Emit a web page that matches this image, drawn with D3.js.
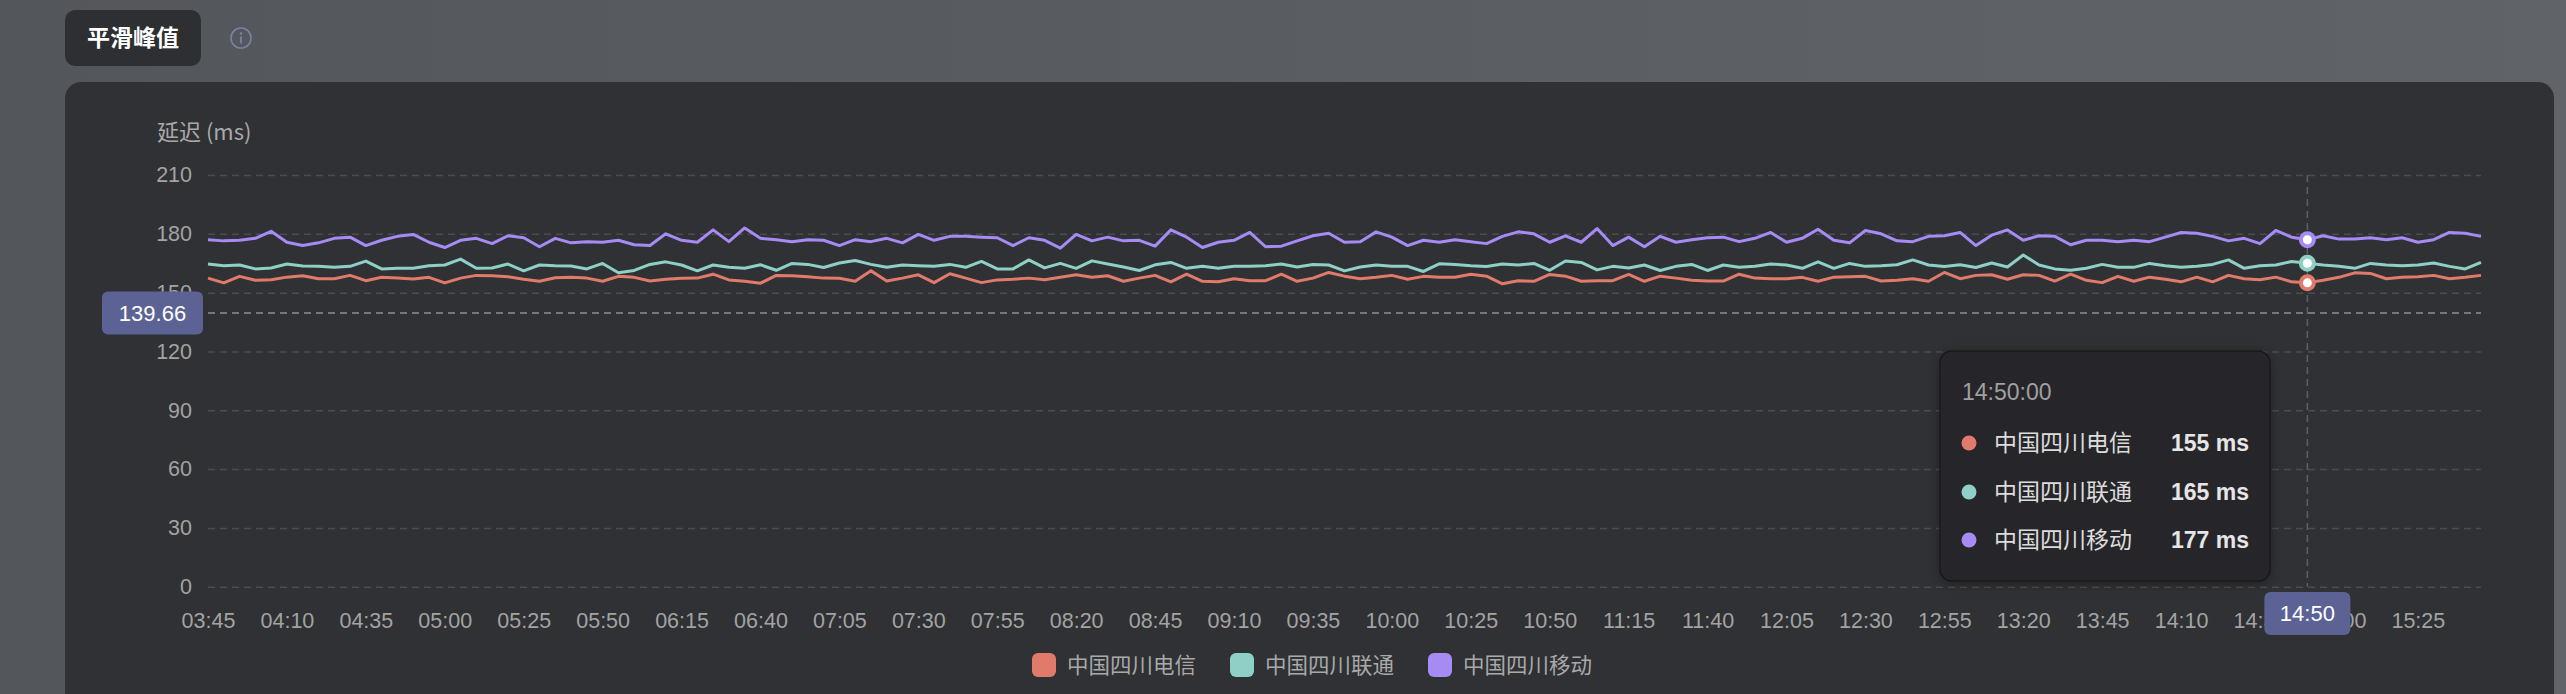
<!DOCTYPE html>
<html>
<head>
<meta charset="utf-8">
<script src="https://cdn.jsdelivr.net/npm/d3@7"></script>
<style>
html,body{margin:0;padding:0;background:#585c60;overflow:hidden;}
svg{display:block;}
text{font-family:"Liberation Sans","Noto Sans CJK SC",Arial,sans-serif;}
</style>
</head>
<body>
<svg id="chart" width="2566" height="694"></svg>
<script>
// ---------- data ----------
const seriesNames = ["中国四川电信", "中国四川联通", "中国四川移动"];
const seriesColors = ["#e07b6c", "#8ed0c6", "#a78bf5"];
const startTime = "03:45";
const stepMinutes = 5;
const telecom = [
157.4,155.0,158.3,156.3,156.6,157.9,158.6,157.1,157.1,158.8,156.1,157.8,157.4,156.9,157.8,155.0,157.4,158.8,158.6,158.1,156.8,155.8,157.6,157.8,157.4,
155.8,158.3,157.8,155.9,156.8,157.3,157.4,159.4,156.5,155.8,154.8,158.8,158.6,158.1,157.4,157.3,155.8,161.1,155.9,157.4,159.1,155.1,159.6,157.4,
155.1,156.5,156.8,157.4,156.6,157.8,159.1,157.8,158.6,155.8,157.4,158.8,155.5,159.4,155.8,155.5,157.1,156.1,156.1,159.4,155.8,157.4,160.3,158.4,157.1,
157.8,158.8,156.8,158.3,157.9,157.8,159.4,158.4,154.5,156.1,155.8,159.3,158.4,155.8,156.1,156.1,159.3,155.8,158.4,157.4,156.3,155.9,155.9,159.4,
157.4,157.1,157.1,157.8,155.8,157.9,158.1,158.3,155.9,156.3,157.1,155.8,160.3,157.1,158.8,159.1,156.8,159.1,158.8,155.9,159.4,156.3,155.1,158.3,
155.8,157.9,156.8,155.5,157.9,155.5,158.8,157.1,156.6,157.9,155.5,155.0,156.3,157.8,160.1,159.8,157.1,157.8,158.1,158.8,157.1,157.8,158.8];
const unicom = [
164.6,163.7,164.1,162.1,162.6,164.6,163.6,163.4,162.9,163.4,166.1,162.1,162.4,162.4,163.7,164.1,167.1,162.4,162.6,164.6,161.1,164.1,163.7,163.6,162.1,
164.9,160.1,161.3,164.4,165.7,164.1,161.1,164.1,162.9,162.4,164.2,161.4,164.9,164.4,162.8,165.1,166.4,164.4,162.9,164.1,163.7,163.4,164.4,162.9,
165.9,162.1,162.1,166.7,162.6,164.9,162.4,166.2,164.6,163.1,161.3,164.2,165.4,162.4,163.4,162.4,163.4,163.4,163.7,164.6,163.1,164.4,164.1,161.1,163.1,
164.1,163.4,163.4,160.8,164.7,164.4,163.7,163.3,164.6,164.1,164.9,161.4,166.1,165.4,161.6,163.4,162.6,164.1,161.3,163.4,164.4,161.3,164.1,162.9,
163.4,164.6,164.1,162.4,165.7,162.4,164.9,163.4,163.7,164.2,166.7,164.1,163.3,164.2,162.8,165.1,163.1,169.2,164.1,162.1,161.4,162.4,164.4,162.9,
162.9,164.9,163.7,162.9,163.4,164.4,166.7,162.4,163.7,164.1,165.9,165.0,164.1,163.4,162.4,164.9,164.1,163.7,164.1,165.1,163.4,162.1,165.4];
const mobile = [
177.0,176.4,176.7,177.7,181.3,175.7,174.0,175.4,177.7,178.3,174.0,176.7,178.7,179.7,175.7,173.0,176.7,177.7,175.0,179.0,178.0,173.4,177.7,175.4,176.0,
175.7,176.7,174.4,174.0,180.0,176.7,175.7,182.0,176.0,183.0,177.7,177.0,176.0,177.0,176.7,174.0,177.0,176.0,177.7,175.4,179.7,176.7,178.7,178.7,
178.3,178.0,174.0,178.0,176.7,172.7,179.7,176.4,178.3,176.4,176.7,173.7,182.0,178.3,173.0,175.7,176.7,180.7,173.4,173.7,176.4,179.0,180.3,175.7,176.0,
181.0,178.3,174.0,176.7,175.7,177.0,176.0,175.0,178.7,181.0,180.0,175.7,179.0,175.7,182.7,174.0,178.3,173.4,178.7,175.7,177.0,178.0,178.3,176.0,
177.7,180.7,175.7,177.7,182.3,176.7,175.4,181.7,180.0,176.4,176.0,178.7,179.0,180.7,174.0,179.3,182.0,176.7,179.0,178.7,174.4,176.7,176.7,176.0,
176.7,176.0,178.3,180.7,180.3,178.7,176.4,177.7,175.0,181.7,178.3,177.0,179.0,177.3,177.3,178.0,177.0,178.0,175.7,177.0,180.7,180.3,178.7];
const xTickLabels = ["03:45","04:10","04:35","05:00","05:25","05:50","06:15","06:40","07:05","07:30","07:55","08:20","08:45","09:10","09:35","10:00","10:25","10:50","11:15","11:40","12:05","12:30","12:55","13:20","13:45","14:10","14:35","15:00","15:25"];
const yTicks = [0,30,60,90,120,150,180,210];
const markValue = 139.66;
const hoverTime = "14:50";
const title = "平滑峰值";
const yTitle = "延迟 (ms)";

// ---------- setup ----------
const svg = d3.select("#chart");
const parseT = d3.timeParse("%Y-%m-%d %H:%M");
const day = "2024-01-01 ";
const t0 = parseT(day + startTime);
const times = telecom.map((_, i) => d3.timeMinute.offset(t0, i * stepMinutes));
const allSeries = [telecom, unicom, mobile];

const pL = 208, pR = 2481, pT = 175, pB = 586.7;
const x = d3.scaleTime().domain([times[0], times[times.length - 1]]).range([pL, pR]);
const y = d3.scaleLinear().domain([0, 210]).range([pB, pT]);

// background
const defs = svg.append("defs");
const bg = defs.append("linearGradient").attr("id", "bg").attr("x1", 0).attr("x2", 1).attr("y1", 0).attr("y2", 0);
bg.append("stop").attr("offset", 0).attr("stop-color", "#53575b");
bg.append("stop").attr("offset", 1).attr("stop-color", "#606367");
const sh = defs.append("filter").attr("id", "sh").attr("x", -0.2).attr("y", -0.2).attr("width", 1.4).attr("height", 1.4);
sh.append("feDropShadow").attr("dx", 0).attr("dy", 2).attr("stdDeviation", 6).attr("flood-color", "#000").attr("flood-opacity", 0.35);

svg.append("rect").attr("width", 2566).attr("height", 694).attr("fill", "url(#bg)");

// title button
svg.append("rect").attr("x", 65).attr("y", 10).attr("width", 136).attr("height", 56).attr("rx", 10).attr("fill", "#2d2f32");
svg.append("text").attr("x", 133).attr("y", 38).attr("dy", "0.36em").attr("text-anchor", "middle")
  .attr("font-size", 23).attr("font-weight", "bold").attr("fill", "#ffffff")
  .style("font-family", '"Noto Sans CJK SC",sans-serif').text(title);
// info icon
const info = svg.append("g").attr("transform", "translate(241,38)");
info.append("circle").attr("r", 10).attr("fill", "none").attr("stroke", "#7a80a6").attr("stroke-width", 1.6);
info.append("circle").attr("cx", 0).attr("cy", -4.5).attr("r", 1.3).attr("fill", "#7a80a6");
info.append("line").attr("x1", 0).attr("x2", 0).attr("y1", -1.5).attr("y2", 5.5).attr("stroke", "#7a80a6").attr("stroke-width", 1.8);

// panel
svg.append("rect").attr("x", 65).attr("y", 82).attr("width", 2489).attr("height", 700).attr("rx", 16).attr("fill", "#2f3134");

// y axis title
svg.append("text").attr("x", 157).attr("y", 140).attr("font-size", 22).attr("fill", "#a9a9a9")
  .style("font-family", '"Noto Sans CJK SC",sans-serif').text(yTitle);

// grid + y axis
const yAxis = svg.append("g").attr("transform", `translate(${pL},0)`)
  .call(d3.axisLeft(y).tickValues(yTicks).tickSize(-(pR - pL)).tickPadding(16).tickFormat(d3.format("d")));
yAxis.select(".domain").remove();
yAxis.selectAll(".tick line").attr("stroke", "#4a4c50").attr("stroke-width", 1.5).attr("stroke-dasharray", "7,5");
yAxis.selectAll(".tick text").attr("fill", "#a3a3a3").attr("font-size", 21.5)
  .style("font-family", '"Liberation Sans",Arial,sans-serif');

// x axis
const tickTimes = xTickLabels.map(s => parseT(day + s));
const xAxis = svg.append("g").attr("transform", `translate(0,${pB})`)
  .call(d3.axisBottom(x).tickValues(tickTimes).tickSize(0).tickPadding(26).tickFormat(d3.timeFormat("%H:%M")));
xAxis.select(".domain").remove();
xAxis.selectAll(".tick text").attr("fill", "#a3a3a3").attr("font-size", 21.5)
  .style("font-family", '"Liberation Sans",Arial,sans-serif');

// mark line
svg.append("line").attr("x1", pL).attr("x2", pR).attr("y1", y(markValue)).attr("y2", y(markValue))
  .attr("stroke", "#8e8e8e").attr("stroke-width", 1.5).attr("stroke-dasharray", "7,5");
svg.append("rect").attr("x", 102).attr("y", y(markValue) - 21.5).attr("width", 101).attr("height", 43).attr("rx", 6).attr("fill", "#5c6394");
svg.append("text").attr("x", 152.5).attr("y", y(markValue)).attr("dy", "0.36em").attr("text-anchor", "middle")
  .attr("font-size", 22).attr("fill", "#ffffff").text(markValue.toFixed(2));

// hover crosshair
const hoverIdx = times.findIndex(t => d3.timeFormat("%H:%M")(t) === hoverTime);
const hx = x(times[hoverIdx]);
svg.append("line").attr("x1", hx).attr("x2", hx).attr("y1", pT).attr("y2", pB)
  .attr("stroke", "#5f6064").attr("stroke-width", 1.5).attr("stroke-dasharray", "7,5");

// lines
const line = d3.line().x((d, i) => x(times[i])).y(d => y(d));
allSeries.forEach((s, si) => {
  svg.append("path").datum(s).attr("d", line).attr("fill", "none")
    .attr("stroke", seriesColors[si]).attr("stroke-width", 3).attr("stroke-linejoin", "round");
});
// hover points
allSeries.forEach((s, si) => {
  svg.append("circle").attr("cx", hx).attr("cy", y(s[hoverIdx])).attr("r", 6.5)
    .attr("fill", "#ffffff").attr("stroke", seriesColors[si]).attr("stroke-width", 4);
});

// x pointer label
svg.append("rect").attr("x", hx - 43).attr("y", 592).attr("width", 86).attr("height", 43).attr("rx", 6).attr("fill", "#5c6394");
svg.append("text").attr("x", hx).attr("y", 613.5).attr("dy", "0.36em").attr("text-anchor", "middle")
  .attr("font-size", 22).attr("fill", "#ffffff").text(hoverTime);

// tooltip
const tip = svg.append("g");
tip.append("rect").attr("x", 1940).attr("y", 351).attr("width", 330).attr("height", 230).attr("rx", 12)
  .attr("fill", "#262729").attr("stroke", "#18191a").attr("stroke-width", 1.5).attr("filter", "url(#sh)");
tip.append("text").attr("x", 1962).attr("y", 400).attr("font-size", 23).attr("fill", "#a0a0a0")
  .text(d3.timeFormat("%H:%M:%S")(times[hoverIdx]));
const rowY = [443, 492, 540];
allSeries.forEach((s, si) => {
  tip.append("circle").attr("cx", 1969).attr("cy", rowY[si]).attr("r", 7.5).attr("fill", seriesColors[si]);
  tip.append("text").attr("x", 1994).attr("y", rowY[si]).attr("dy", "0.36em").attr("font-size", 23).attr("fill", "#dcdcdc")
    .style("font-family", '"Noto Sans CJK SC",sans-serif').text(seriesNames[si]);
  tip.append("text").attr("x", 2249).attr("y", rowY[si]).attr("dy", "0.36em").attr("text-anchor", "end")
    .attr("font-size", 23).attr("font-weight", "bold").attr("fill", "#e6e6e6")
    .text(Math.round(s[hoverIdx]) + " ms");
});

// legend
const legendX = [1032, 1230, 1428];
const lg = svg.append("g");
seriesNames.forEach((n, i) => {
  lg.append("rect").attr("x", legendX[i]).attr("y", 653).attr("width", 24).attr("height", 24).attr("rx", 6).attr("fill", seriesColors[i]);
  lg.append("text").attr("x", legendX[i] + 35).attr("y", 665).attr("dy", "0.36em").attr("font-size", 21.5).attr("fill", "#a9a9a9")
    .style("font-family", '"Noto Sans CJK SC",sans-serif').text(n);
});
</script>
</body>
</html>
